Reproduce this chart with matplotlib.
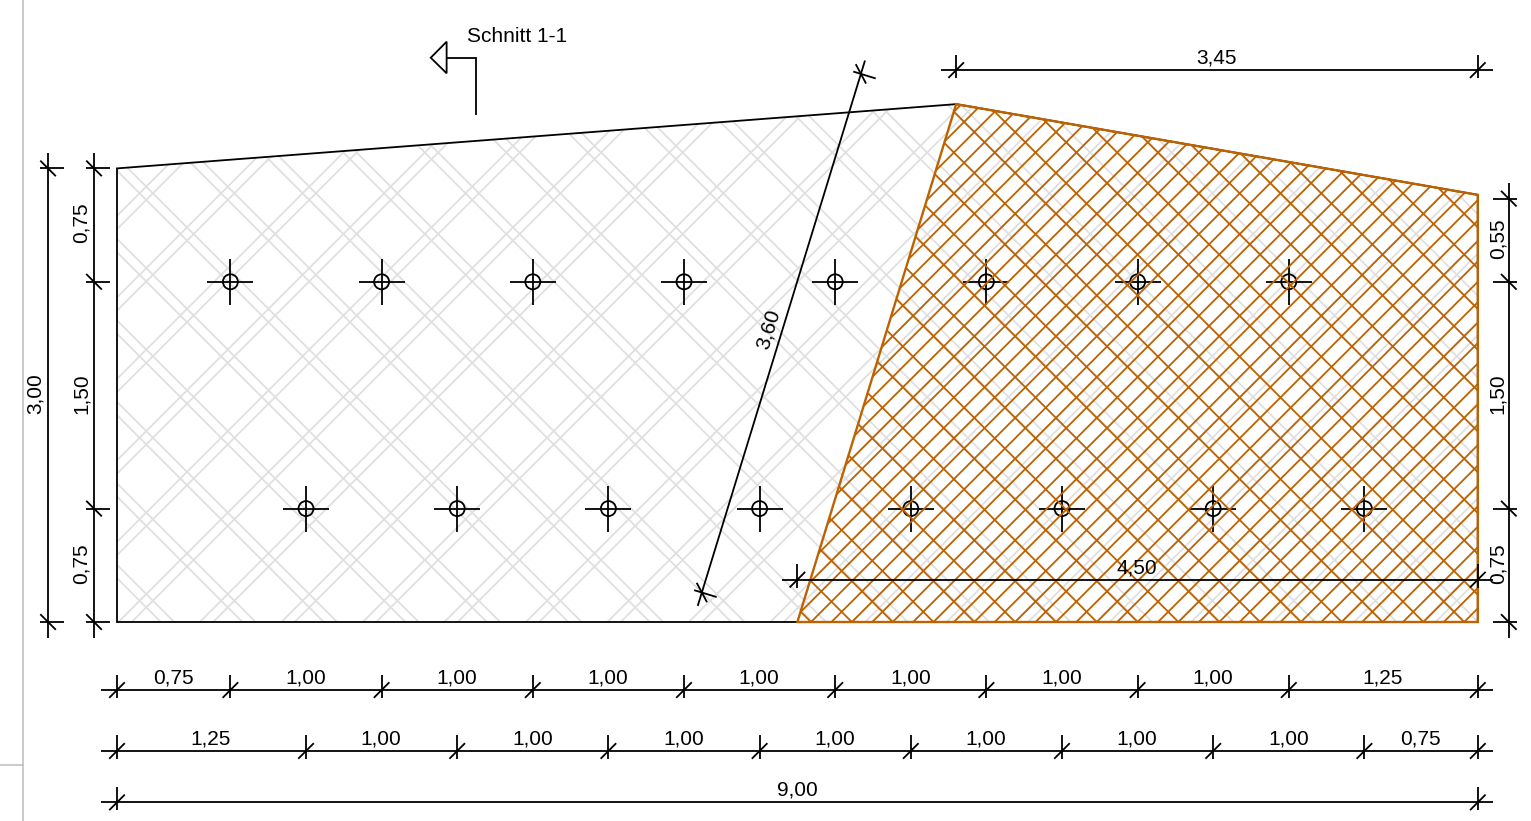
import numpy as np
import matplotlib
matplotlib.use("Agg")
import matplotlib.pyplot as plt
from matplotlib.collections import LineCollection
from matplotlib.patches import Circle, Polygon

plt.rcParams['font.family'] = ['Liberation Sans', 'DejaVu Sans']

# Geometrie in Metern, Ursprung unten links an der Platte
plate_x = [0, 0, 5.55, 9, 9]
plate_y = [0, 3.0, 3.425, 2.825, 0]
zone_x = [4.5, 5.55, 9, 9]
zone_y = [0, 3.425, 2.825, 0]

piles_top_x = [0.75, 1.75, 2.75, 3.75, 4.75, 5.75, 6.75, 7.75]
piles_bottom_x = [1.25, 2.25, 3.25, 4.25, 5.25, 6.25, 7.25, 8.25]
piles_top_y = 2.25
piles_bottom_y = 0.75

row1_sizes = [0.75, 1, 1, 1, 1, 1, 1, 1, 1.25]
row2_sizes = [1.25, 1, 1, 1, 1, 1, 1, 1, 0.75]
row3_sizes = [9]
left_sizes = [0.75, 1.5, 0.75]
right_sizes = [0.75, 1.5, 0.55]
outer_sizes = [3.0]

row1_y = -0.45
row2_y = -0.853
row3_y = -1.193
left_x = -0.152
outer_x = -0.456
right_x = 9.205
top_y = 3.65
inner_y = 0.28

slant_start = (3.868, 0.195)
slant_end = (4.92, 3.625)

section_text = "Schnitt 1-1"

BLACK = "#000000"
ORANGE = "#bd6200"
GREY = "#dfdfdf"
SCALE = 151.2  # Pixel pro Meter
PX = 1 / SCALE
LW = 1.3

fig = plt.figure(figsize=(15.31, 8.21), dpi=100)
ax = fig.add_axes([0, 0, 1, 1])
ax.set_xlim(-117 / SCALE, (1531 - 117) / SCALE)
ax.set_ylim((622 - 821) / SCALE, 622 / SCALE)
ax.axis("off")


def num(v):
    return f"{v:.2f}".replace(".", ",")


def line(xs, ys, color=BLACK, lw=LW, z=5):
    ax.plot(xs, ys, color=color, lw=lw, zorder=z, solid_capstyle="butt",
            solid_joinstyle="miter")


def hatch(offsets_up, offsets_down, clip, color, lw, z):
    # Schraffur unter +-45 Grad, an der Flaeche abgeschnitten
    segs = []
    for c in offsets_up:      # x - y = c
        segs.append([(c - 5, -5), (c + 5, 5)])
    for c in offsets_down:    # x + y = c
        segs.append([(c - 5, 5), (c + 5, -5)])
    lc = LineCollection(segs, colors=color, linewidths=lw, zorder=z)
    ax.add_collection(lc, autolim=False)
    lc.set_clip_path(clip)


def tick(x, y, a, side):
    # Masslinien-Begrenzung: Strich quer zur Linie + Schraegstrich
    nx, ny = np.cos(a + side * np.pi / 2), np.sin(a + side * np.pi / 2)
    line([x - nx * 8 * PX, x + nx * 15.5 * PX], [y - ny * 8 * PX, y + ny * 15.5 * PX])
    sx, sy = np.cos(a + np.pi / 4), np.sin(a + np.pi / 4)
    line([x - sx * 11 * PX, x + sx * 11 * PX], [y - sy * 11 * PX, y + sy * 11 * PX])


def dim_h(x0, sizes, y):
    pos = np.concatenate([[x0], x0 + np.cumsum(sizes)])
    line([pos[0] - 15.5 * PX, pos[-1] + 15.5 * PX], [y, y])
    for p in pos:
        tick(p, y, 0, 1)
    for s, a, b in zip(sizes, pos[:-1], pos[1:]):
        ax.text((a + b) / 2 - 0.5 * PX, y + 12 * PX, num(s), ha="center", va="center",
                fontsize=15, zorder=7)


def dim_v(y0, sizes, x, side, text_dx):
    pos = np.concatenate([[y0], y0 + np.cumsum(sizes)])
    line([x, x], [pos[0] - 15.5 * PX, pos[-1] + 15.5 * PX])
    for p in pos:
        tick(x, p, np.pi / 2, side)
    for s, a, b in zip(sizes, pos[:-1], pos[1:]):
        ax.text(x + text_dx * PX, (a + b) / 2 + 2 * PX, num(s), ha="center", va="center",
                rotation=90, fontsize=15, zorder=7)


# Flaechen und Schraffuren
plate = Polygon(np.column_stack([plate_x, plate_y]), closed=True, fill=False,
                edgecolor=BLACK, lw=LW, zorder=3)
ax.add_patch(plate)
zone = Polygon(np.column_stack([zone_x, zone_y]), closed=True, fill=False,
               edgecolor=ORANGE, lw=1.7, zorder=4)
ax.add_patch(zone)

k = np.arange(-20, 40)
grey_up = np.concatenate([0.053 + k * 0.539 - 0.044, 0.053 + k * 0.539 + 0.044])
grey_down = np.concatenate([0.873 + k * 0.539 - 0.044, 0.873 + k * 0.539 + 0.044])
hatch(grey_up, grey_down, plate, GREY, 1.25, 1)

# "/" Linien liegen doppelt so dicht wie "\" Linien
hatch(8.64 + np.arange(-120, 120) * 0.135, 8.64 + np.arange(-60, 60) * 0.27, zone, ORANGE, 1.3, 4)

# Pfaehle
for xs, y in ((piles_top_x, piles_top_y), (piles_bottom_x, piles_bottom_y)):
    for x in xs:
        line([x - 23 * PX, x + 23 * PX], [y, y], z=2)
        line([x, x], [y - 23 * PX, y + 23 * PX], z=2)
        ax.add_patch(Circle((x, y), 7.5 * PX, fill=False, edgecolor=BLACK, lw=LW, zorder=2))

# Masslinien
dim_h(0, row1_sizes, row1_y)
dim_h(0, row2_sizes, row2_y)
dim_h(0, row3_sizes, row3_y)
dim_h(5.55, [3.45], top_y)
dim_h(4.5, [4.5], inner_y)
dim_v(0, left_sizes, left_x, -1, -12.5)
dim_v(0, outer_sizes, outer_x, -1, -12.5)
dim_v(0, right_sizes, right_x, 1, -11)

# schraege Masslinie 3,60
a = np.arctan2(slant_end[1] - slant_start[1], slant_end[0] - slant_start[0])
ux, uy = np.cos(a), np.sin(a)
line([slant_start[0] - ux * 14 * PX, slant_end[0] + ux * 14 * PX],
     [slant_start[1] - uy * 14 * PX, slant_end[1] + uy * 14 * PX])
tick(slant_start[0], slant_start[1], a, -1)
tick(slant_end[0], slant_end[1], a, -1)
ax.text((slant_start[0] + slant_end[0]) / 2 - 13 * PX * np.sin(a),
        (slant_start[1] + slant_end[1]) / 2 + 13 * PX * np.cos(a), num(3.6),
        ha="center", va="center", rotation=np.degrees(a), rotation_mode="anchor",
        fontsize=15, zorder=7)

# Schnittmarke
ax.add_patch(Polygon([(2.18, 3.838), (2.075, 3.732), (2.18, 3.629)], closed=True, fill=False,
                     edgecolor=BLACK, lw=LW, zorder=5))
line([2.18, 2.376, 2.376], [3.732, 3.732, 3.353])
ax.text(2.316, 3.875, section_text, ha="left", va="center", fontsize=15)

# graue Linien vom Seitenrahmen
ax.plot([-0.62, -0.62], [-2, 5], color="#bdbdbd", lw=1.1)
ax.plot([-1, -0.62], [-0.949, -0.949], color="#bdbdbd", lw=1.1)

fig.savefig("out.png", dpi=100)
